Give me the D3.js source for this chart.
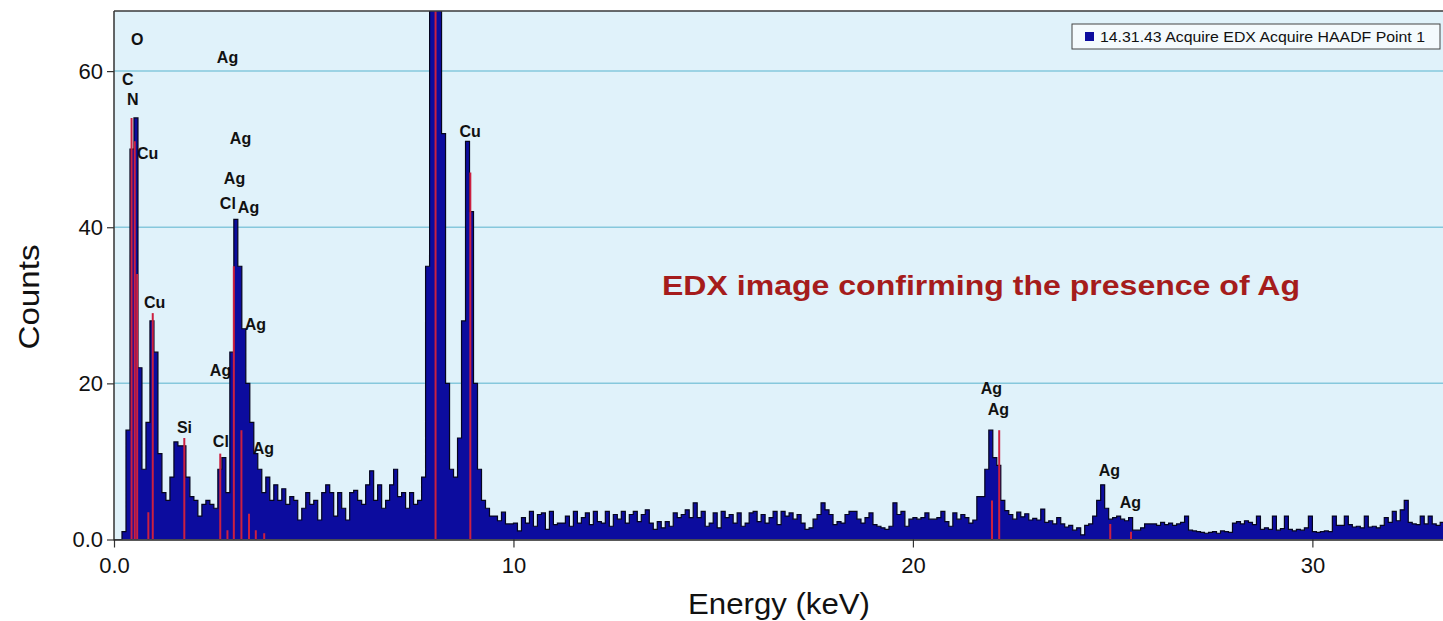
<!DOCTYPE html>
<html>
<head>
<meta charset="utf-8">
<script src="https://cdn.jsdelivr.net/npm/d3@7"></script>
<style>
  body { margin: 0; background: #ffffff; }
  #chart { width: 1443px; height: 621px; }
  text { font-family: Arial, "Liberation Sans", sans-serif; }
</style>
</head>
<body>
<div id="chart"></div>
<script>
// spectrum counts, one value per 0.1 keV channel starting at 0 keV
const binWidth = 0.1;
const counts = [
  0, 0, 1, 14, 50, 54, 22, 9, 15, 28,
  24, 11, 6, 5, 8, 12.5, 12, 12, 8, 5.5,
  5, 3, 4.5, 5, 4.5, 4, 9, 10.5, 6, 24,
  41, 35, 27, 20, 15, 11, 9, 6, 8, 5,
  7, 5, 6.5, 4.5, 5.5, 5, 2.5, 4, 6, 4.5,
  5, 2.5, 6, 7, 6, 3, 6, 4, 2.5, 6,
  6.3, 5, 4.5, 7, 8.8, 5, 7, 4, 5, 7,
  9, 5.5, 6, 4, 6, 4.5, 5, 8, 35, 110,
  170, 130, 52, 20, 9, 8, 13, 28, 51, 42,
  20, 9, 5, 4, 3, 3, 2.4, 3.5, 2, 2,
  2.1, 1.1, 2.8, 2.1, 3.6, 1.7, 3.2, 3.4, 1.3, 3.6,
  1.9, 2.1, 2.1, 3.0, 1.7, 3.6, 2.1, 2.8, 3.4, 1.9,
  3.6, 2.3, 2.1, 3.6, 1.7, 3.2, 2.6, 3.6, 2.1, 3.2,
  3.6, 2.3, 3.2, 3.8, 2.1, 1.3, 2.3, 1.5, 2.3, 1.7,
  3.4, 2.8, 3.2, 3.8, 2.8, 4.7, 2.8, 3.6, 1.7, 2.1,
  3.4, 1.5, 3.6, 2.8, 3.2, 2.1, 3.4, 1.7, 2.1, 3.4,
  3.6, 2.3, 3.2, 2.1, 2.8, 3.6, 1.9, 3.6, 3.0, 3.4,
  2.6, 3.2, 2.1, 1.3, 1.5, 2.6, 3.2, 4.7, 3.8, 3.2,
  1.9, 2.3, 2.1, 3.2, 3.6, 3.6, 2.6, 2.1, 2.8, 3.4,
  1.9, 1.7, 1.5, 1.3, 1.7, 4.7, 3.2, 3.6, 1.7, 2.6,
  2.8, 2.6, 2.8, 3.4, 2.6, 2.6, 2.8, 3.6, 2.3, 1.7,
  3.4, 2.6, 3.2, 2.8, 2.1, 2.5, 5.5, 5.5, 9, 14,
  10.5, 9.5, 5, 3.7, 3.2, 2.6, 3.5, 2.9, 3.3, 2.5,
  2.7, 2.5, 3.9, 2.2, 2.4, 2.0, 2.8, 2.0, 1.6, 1.8,
  1.2, 1.5, 0.6, 1.8, 2.0, 3, 5, 7, 4, 2.6,
  2.8, 3.0, 2.6, 2.4, 2.8, 1.2, 1.2, 1.5, 2.0, 2.0,
  2.0, 1.8, 2.2, 1.9, 2.1, 1.8, 2.0, 2.2, 3.0, 1.2,
  1.1, 1.0, 0.9, 0.8, 0.9, 1.0, 0.8, 1.1, 1.0, 0.9,
  2.1, 2.3, 2.0, 2.4, 2.2, 1.9, 3.0, 1.3, 1.5, 1.3,
  3.0, 1.2, 1.4, 3.0, 1.3, 1.1, 1.3, 1.2, 1.5, 3.0,
  1.0, 0.9, 1.0, 1.1, 1.0, 3.0, 1.8, 1.8, 3.0, 1.9,
  1.6, 1.7, 1.5, 3.0, 1.6, 1.7, 1.5, 1.8, 2.8, 2.2,
  3.6, 2.4, 3.8, 5.0, 2.2, 2.0, 1.9, 3.0, 2.0, 3.0,
  2.0, 1.8, 2.2
];

// red element marker lines (keV, height in counts)
const markerEnergy = [0.44, 0.52, 0.58, 0.86, 0.97, 1.76, 2.66, 2.84, 3.0, 3.19, 3.38, 3.55, 3.76, 8.05, 8.92, 21.98, 22.16, 24.94, 25.46];
const markerHeight = [54, 51, 34, 3.5, 29, 13, 11, 1.2, 35, 14, 3.3, 1.2, 0.8, 100, 47, 5, 14, 2, 1];

// element labels: text, left edge (keV), baseline (counts)
const labelText = ["O", "Ag", "C", "N", "Cu", "Ag", "Ag", "Cl", "Ag", "Cu", "Cu", "Ag", "Ag", "Si", "Cl", "Ag", "Ag", "Ag", "Ag", "Ag"];
const labelEnergy = [0.425, 2.575, 0.2, 0.325, 0.575, 2.9, 2.75, 2.65, 3.1, 8.65, 0.75, 3.275, 2.4, 1.575, 2.475, 3.475, 21.7, 21.875, 24.65, 25.175];
const labelCount = [63.3, 61.0, 58.2, 55.6, 48.8, 50.6, 45.5, 42.4, 41.8, 51.5, 29.7, 26.9, 20.9, 13.6, 11.8, 10.9, 18.6, 15.9, 8.1, 4.0];

const xTicks = [0, 10, 20, 30];
const xTickLabels = ["0.0", "10", "20", "30"];
const yTicks = [0, 20, 40, 60];
const yTickLabels = ["0.0", "20", "40", "60"];
const legendLabel = "14.31.43 Acquire EDX Acquire HAADF Point 1";
const noteText = "EDX image confirming the presence of Ag";

const width = 1443, height = 621;
const plot = { left: 114, right: 1443, top: 11, bottom: 539.5 };

const svg = d3.select("#chart").append("svg")
  .attr("width", width)
  .attr("height", height);

svg.append("rect").attr("width", width).attr("height", height).attr("fill", "#ffffff");

const x = d3.scaleLinear().domain([0, 33.27]).range([plot.left, plot.right]);
const y = d3.scaleLinear().domain([0, 67.7]).range([plot.bottom, plot.top]);

// plot background
svg.append("rect")
  .attr("x", plot.left).attr("y", plot.top)
  .attr("width", plot.right - plot.left).attr("height", plot.bottom - plot.top)
  .attr("fill", "#e0f2fa");

svg.append("clipPath").attr("id", "plotClip")
  .append("rect")
  .attr("x", plot.left).attr("y", plot.top)
  .attr("width", plot.right - plot.left).attr("height", plot.bottom - plot.top);

// horizontal grid lines
svg.append("g").selectAll("line")
  .data(yTicks.filter(d => d > 0))
  .enter().append("line")
  .attr("x1", plot.left).attr("x2", plot.right)
  .attr("y1", d => y(d)).attr("y2", d => y(d))
  .attr("stroke", "#86c8dc").attr("stroke-width", 1.5);

// element labels sit behind the spectrum
svg.append("g").selectAll("text")
  .data(labelText)
  .enter().append("text")
  .attr("x", (d, i) => x(labelEnergy[i]))
  .attr("y", (d, i) => y(labelCount[i]))
  .attr("font-size", "16px")
  .attr("font-weight", "bold")
  .attr("fill", "#111111")
  .text(d => d);

// spectrum as a step histogram
const points = counts.map((c, i) => [i * binWidth, c]);
points.push([counts.length * binWidth, counts[counts.length - 1]]);

const spec = svg.append("g").attr("clip-path", "url(#plotClip)");

spec.append("path")
  .datum(points)
  .attr("d", d3.area()
    .x(d => x(d[0]))
    .y0(y(0))
    .y1(d => y(d[1]))
    .curve(d3.curveStepAfter))
  .attr("fill", "#0c0c9e");

spec.append("path")
  .datum(points)
  .attr("d", d3.line()
    .x(d => x(d[0]))
    .y(d => y(d[1]))
    .curve(d3.curveStepAfter))
  .attr("fill", "none")
  .attr("stroke", "#05051e")
  .attr("stroke-width", 1.2);

// red element markers
spec.selectAll(".marker")
  .data(markerEnergy)
  .enter().append("line")
  .attr("class", "marker")
  .attr("x1", d => x(d)).attr("x2", d => x(d))
  .attr("y1", y(0))
  .attr("y2", (d, i) => y(markerHeight[i]))
  .attr("stroke", "#cc2040")
  .attr("stroke-width", 2);

// frame: top border
svg.append("line")
  .attr("x1", plot.left).attr("x2", plot.right)
  .attr("y1", plot.top).attr("y2", plot.top)
  .attr("stroke", "#3a3a3a").attr("stroke-width", 1.5);

// y axis
const yAxis = svg.append("g")
  .attr("transform", `translate(${plot.left},0)`)
  .call(d3.axisLeft(y).tickValues(yTicks).tickSize(7).tickPadding(4)
    .tickFormat((d, i) => yTickLabels[i]));
yAxis.select(".domain").remove();
yAxis.selectAll(".tick line").attr("stroke", "#333333").attr("stroke-width", 1.2);
yAxis.selectAll(".tick text").attr("font-size", "22px").attr("fill", "#111111")
  .attr("font-family", "Arial, 'Liberation Sans', sans-serif");
svg.append("line")
  .attr("x1", plot.left).attr("x2", plot.left)
  .attr("y1", plot.top).attr("y2", plot.bottom + 1)
  .attr("stroke", "#333333").attr("stroke-width", 1.5);

// x axis
const xAxis = svg.append("g")
  .attr("transform", `translate(0,${plot.bottom})`)
  .call(d3.axisBottom(x).tickValues(xTicks).tickSize(8).tickPadding(10)
    .tickFormat((d, i) => xTickLabels[i]));
xAxis.select(".domain").remove();
xAxis.selectAll(".tick line").attr("stroke", "#333333").attr("stroke-width", 1.2);
xAxis.selectAll(".tick text").attr("font-size", "22px").attr("fill", "#111111")
  .attr("font-family", "Arial, 'Liberation Sans', sans-serif");
svg.append("line")
  .attr("x1", plot.left).attr("x2", plot.right)
  .attr("y1", plot.bottom + 0.5).attr("y2", plot.bottom + 0.5)
  .attr("stroke", "#222222").attr("stroke-width", 1.5);

// axis titles
svg.append("text")
  .attr("transform", `translate(39,297) rotate(-90)`)
  .attr("text-anchor", "middle")
  .attr("font-size", "30px")
  .attr("textLength", 105)
  .attr("lengthAdjust", "spacingAndGlyphs")
  .attr("fill", "#111111")
  .text("Counts");

svg.append("text")
  .attr("x", 779).attr("y", 614)
  .attr("text-anchor", "middle")
  .attr("font-size", "29px")
  .attr("textLength", 182)
  .attr("lengthAdjust", "spacingAndGlyphs")
  .attr("fill", "#111111")
  .text("Energy (keV)");

// legend
const legend = svg.append("g");
legend.append("rect")
  .attr("x", 1072).attr("y", 24).attr("width", 368).attr("height", 25)
  .attr("fill", "#f4fafd").attr("stroke", "#444444").attr("stroke-width", 1);
legend.append("rect")
  .attr("x", 1085).attr("y", 32).attr("width", 9).attr("height", 9)
  .attr("fill", "#0c0c9e");
legend.append("text")
  .attr("x", 1100).attr("y", 42)
  .attr("font-size", "14.5px")
  .attr("textLength", 325)
  .attr("lengthAdjust", "spacingAndGlyphs")
  .attr("fill", "#111111")
  .text(legendLabel);

// red annotation
svg.append("text")
  .attr("x", 662).attr("y", 295)
  .attr("font-size", "27px")
  .attr("font-weight", "bold")
  .attr("textLength", 638)
  .attr("lengthAdjust", "spacingAndGlyphs")
  .attr("fill", "#a51c1c")
  .text(noteText);
</script>
</body>
</html>
